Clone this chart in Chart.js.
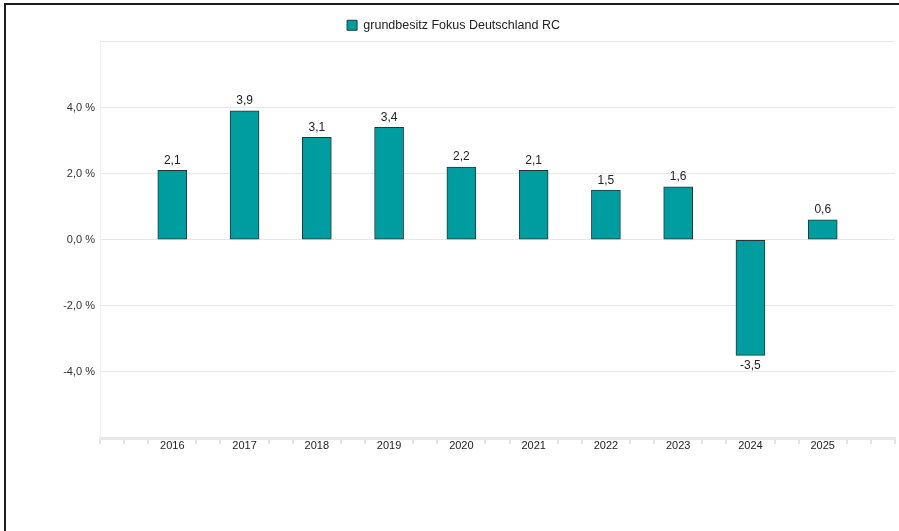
<!DOCTYPE html>
<html>
<head>
<meta charset="utf-8">
<script src="https://cdn.jsdelivr.net/npm/chart.js@4/dist/chart.umd.min.js"></script>
<style>
  html, body { margin:0; padding:0; background:#fff; overflow:hidden; }
  #frame { position:absolute; left:4px; top:3px; width:1000px; height:1000px; border-left:2px solid #1c1c1c; border-top:2px solid #1c1c1c; }
  #wrap { position:absolute; left:0; top:0; width:899px; height:531px; }
</style>
</head>
<body>
<div id="frame"></div>
<div id="wrap"><canvas id="perf-chart" width="899" height="531"></canvas></div>
<script>
// jährliche Wertentwicklung in %
const seriesName = 'grundbesitz Fokus Deutschland RC';
const years  = [2016, 2017, 2018, 2019, 2020, 2021, 2022, 2023, 2024, 2025];
const values = [2.1, 3.9, 3.1, 3.4, 2.2, 2.1, 1.5, 1.6, -3.5, 0.6];
const yTicks = [-6, -4, -2, 0, 2, 4, 6];
const yLabelled = [-4, -2, 0, 2, 4];

const FONT = 'Liberation Sans, Arial, sans-serif';
const TEAL = '#009da0';
const fmt = (v, d) => v.toFixed(d).replace('.', ',');

const xMin = years[0] - 1, xMax = years[years.length - 1] + 1;
const isYearTick = i => i % 3 === 0 && years.includes(xMin + i / 3);

const valueLabels = {
  id: 'valueLabels',
  afterDatasetsDraw(chart) {
    const ctx = chart.ctx;
    const meta = chart.getDatasetMeta(0);
    ctx.save();
    ctx.font = '12px ' + FONT;
    ctx.fillStyle = '#222';
    ctx.textAlign = 'center';
    meta.data.forEach((bar, i) => {
      const v = values[i];
      if (v >= 0) { ctx.textBaseline = 'bottom'; ctx.fillText(fmt(v, 1), bar.x, bar.y - 4); }
      else        { ctx.textBaseline = 'top';    ctx.fillText(fmt(v, 1), bar.x, bar.y + 4); }
    });
    ctx.restore();
  }
};

new Chart(document.getElementById('perf-chart'), {
  type: 'bar',
  data: {
    datasets: [{
      label: seriesName,
      data: years.map((y, i) => ({ x: y, y: values[i] })),
      backgroundColor: TEAL,
      borderColor: '#263636',
      borderWidth: 1,
      borderSkipped: false,
      barThickness: 29
    }]
  },
  options: {
    responsive: false,
    animation: false,
    layout: { padding: { left: 12, right: 4, top: 9, bottom: 0 } },
    plugins: {
      legend: {
        position: 'top',
        labels: { font: { family: FONT, size: 12.5 }, color: '#222', boxWidth: 10, boxHeight: 10, padding: 10 }
      },
      tooltip: { enabled: false }
    },
    scales: {
      x: {
        type: 'linear',
        min: xMin,
        max: xMax,
        offset: false,
        afterBuildTicks: s => { s.ticks = Array.from({ length: (xMax - xMin) * 3 + 1 }, (_, i) => ({ value: xMin + i / 3 })); },
        afterFit: s => { s.height = 93; },
        grid: {
          offset: false,
          drawOnChartArea: false,
          tickLength: 6,
          lineWidth: 2,
          tickColor: c => isYearTick(c.index) ? 'rgba(0,0,0,0)' : '#e4e4e4'
        },
        border: { color: '#e8e8e8', width: 3 },
        ticks: {
          autoSkip: false,
          maxRotation: 0,
          padding: -5,
          color: '#222',
          font: { family: FONT, size: 11 },
          callback: (v, i) => isYearTick(i) ? String(Math.round(xMin + i / 3)) : ''
        }
      },
      y: {
        min: yTicks[0],
        max: yTicks[yTicks.length - 1],
        afterBuildTicks: s => { s.ticks = yTicks.map(v => ({ value: v })); },
        afterFit: s => { s.width = 88; },
        grid: { color: '#e8e8e8', drawTicks: false },
        border: { color: '#f0f0f0' },
        ticks: {
          padding: 5,
          color: '#333',
          font: { family: FONT, size: 11 },
          callback: v => yLabelled.includes(v) ? fmt(v, 1) + ' %' : ''
        }
      }
    }
  },
  plugins: [valueLabels]
});
</script>
</body>
</html>
